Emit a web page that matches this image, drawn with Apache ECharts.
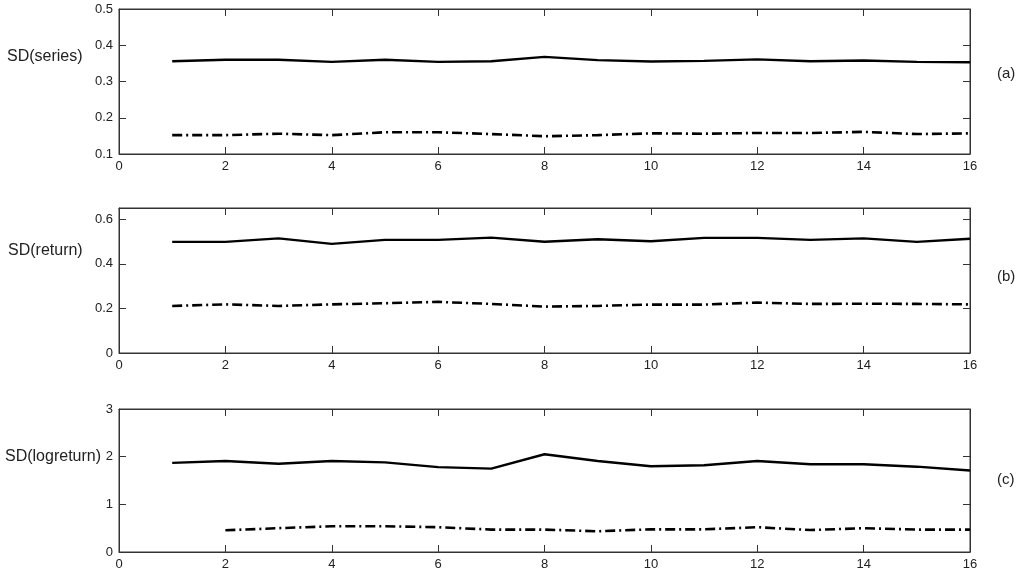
<!DOCTYPE html>
<html><head><meta charset="utf-8">
<script src="https://cdn.jsdelivr.net/npm/echarts@6/dist/echarts.min.js"></script>
<style>html,body{margin:0;padding:0;background:#fff}#c{width:1024px;height:577px}</style>
</head><body><div id="c"></div>
<script>
var xValues = [1,2,3,4,5,6,7,8,9,10,11,12,13,14,15,16];
var seriesSolid = [0.356,0.360,0.360,0.354,0.360,0.354,0.356,0.368,0.359,0.355,0.357,0.361,0.356,0.358,0.354,0.353];
var seriesDash  = [0.152,0.152,0.156,0.152,0.160,0.160,0.155,0.149,0.152,0.157,0.156,0.158,0.158,0.161,0.155,0.157];
var returnSolid = [0.498,0.498,0.514,0.489,0.507,0.507,0.517,0.499,0.510,0.501,0.516,0.516,0.507,0.514,0.498,0.512];
var returnDash  = [0.211,0.218,0.211,0.218,0.223,0.229,0.220,0.208,0.211,0.217,0.217,0.226,0.220,0.221,0.220,0.218];
var logSolid    = [1.87,1.91,1.85,1.91,1.88,1.78,1.75,2.05,1.91,1.80,1.82,1.91,1.84,1.84,1.79,1.71];
var logDash     = [null,0.455,0.50,0.54,0.54,0.52,0.47,0.47,0.435,0.475,0.475,0.52,0.46,0.50,0.47,0.47];
var yLabels = ['SD(series)','SD(return)','SD(logreturn)'];
var panelLabels = ['(a)','(b)','(c)'];
var yRanges = [[0.1,0.5,0.1],[0,0.65,0.2],[0,3,1]];

var chart = echarts.init(document.getElementById('c'));
var font = 'Liberation Sans';
var txt = '#222';
var grids = [
  {left:119, top:9, width:851, height:145},
  {left:119, top:208, width:851, height:145},
  {left:119, top:409, width:851, height:143}
];
grids.forEach(function(g){ g.show = true; g.borderColor = '#333'; g.borderWidth = 1; g.backgroundColor = '#fff'; });

var xAxes = [], yAxes = [], series = [];
var solids = [seriesSolid, returnSolid, logSolid];
var dashes = [seriesDash, returnDash, logDash];
for (var i = 0; i < 3; i++) {
  xAxes.push({type:'value', gridIndex:i, min:0, max:16, interval:2, position:'bottom',
    axisLine:{show:true, onZero:false, lineStyle:{color:'#333'}},
    axisTick:{show:true, inside:true, length:7, lineStyle:{color:'#333'}},
    axisLabel:{color:txt, fontFamily:font, fontSize:13, margin:6},
    splitLine:{show:false}});
  xAxes.push({type:'value', gridIndex:i, min:0, max:16, interval:2, position:'top',
    axisLine:{show:true, onZero:false, lineStyle:{color:'#333'}},
    axisTick:{show:true, inside:true, length:7, lineStyle:{color:'#333'}},
    axisLabel:{show:false}, splitLine:{show:false}});
  var r = yRanges[i];
  yAxes.push({type:'value', gridIndex:i, min:r[0], max:r[1], interval:r[2], position:'left',
    axisLine:{show:true, onZero:false, lineStyle:{color:'#333'}},
    axisTick:{show:true, inside:true, length:7, lineStyle:{color:'#333'}},
    axisLabel:{color:txt, fontFamily:font, fontSize:13, margin:6,
      formatter:function(v){ return String(Math.round(v*10)/10); }},
    splitLine:{show:false}});
  yAxes.push({type:'value', gridIndex:i, min:r[0], max:r[1], interval:r[2], position:'right',
    axisLine:{show:true, onZero:false, lineStyle:{color:'#333'}},
    axisTick:{show:true, inside:true, length:7, lineStyle:{color:'#333'}},
    axisLabel:{show:false}, splitLine:{show:false}});
  series.push({type:'line', xAxisIndex:2*i, yAxisIndex:2*i, symbol:'none', silent:true,
    data: xValues.map(function(x,k){ return [x, solids[i][k]]; }),
    lineStyle:{color:'#000', width:2.4, type:'solid'}});
  series.push({type:'line', xAxisIndex:2*i, yAxisIndex:2*i, symbol:'none', silent:true, connectNulls:false,
    data: xValues.map(function(x,k){ return [x, dashes[i][k]]; }),
    lineStyle:{color:'#000', width:2.6, type:[10,4,2,4]}});
}

var labelY = [58, 252, 458];
var labelX = [7, 8, 5];
var panelY = [75, 278, 481];
var graphics = [];
for (var j = 0; j < 3; j++) {
  graphics.push({type:'text', left: labelX[j], top: labelY[j]-9,
    style:{text:yLabels[j], fill:txt, font:'16px ' + font}});
  graphics.push({type:'text', left: 997, top: panelY[j]-9,
    style:{text:panelLabels[j], fill:txt, font:'15px ' + font}});
}

chart.setOption({
  animation:false,
  backgroundColor:'#fff',
  grid:grids, xAxis:xAxes, yAxis:yAxes, series:series, graphic:graphics
});
</script></body></html>
